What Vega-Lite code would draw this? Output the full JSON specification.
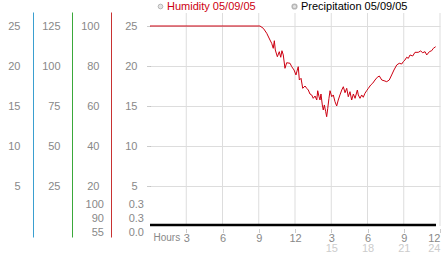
{
  "$schema": "https://vega.github.io/schema/vega-lite/v6.json",
  "width": 290,
  "height": 225,
  "autosize": {"type": "none"},
  "padding": {"left": 150, "top": 12, "right": 2, "bottom": 16},
  "background": "white",
  "config": {
    "view": {"stroke": null},
    "font": "Liberation Sans",
    "axis": {"labelFont": "Liberation Sans", "labelFontSize": 11, "labelColor": "#888888", "title": null},
    "text": {"font": "Liberation Sans", "fontSize": 11}
  },
  "datasets": {
    "humidity": [
      {"h": 0, "v": 25}, {"h": 9.10, "v": 25}, {"h": 9.38, "v": 24.71}, {"h": 9.66, "v": 24.09},
      {"h": 9.93, "v": 23.25}, {"h": 10.07, "v": 22.84}, {"h": 10.20, "v": 22.21}, {"h": 10.29, "v": 23.16},
      {"h": 10.37, "v": 22.0}, {"h": 10.54, "v": 21.16}, {"h": 10.70, "v": 21.79}, {"h": 10.82, "v": 21.09},
      {"h": 10.92, "v": 21.91}, {"h": 11.03, "v": 21.38}, {"h": 11.17, "v": 19.71}, {"h": 11.31, "v": 20.41},
      {"h": 11.59, "v": 20.34}, {"h": 11.73, "v": 19.91}, {"h": 11.92, "v": 19.5}, {"h": 12.08, "v": 18.88},
      {"h": 12.19, "v": 19.5}, {"h": 12.27, "v": 19.91}, {"h": 12.36, "v": 18.25}, {"h": 12.50, "v": 18.46},
      {"h": 12.64, "v": 17.21}, {"h": 12.83, "v": 17.5}, {"h": 12.97, "v": 17.21}, {"h": 13.10, "v": 17.0},
      {"h": 13.24, "v": 16.5}, {"h": 13.38, "v": 16.38}, {"h": 13.51, "v": 15.96}, {"h": 13.66, "v": 16.25},
      {"h": 13.80, "v": 15.75}, {"h": 13.88, "v": 16.91}, {"h": 13.99, "v": 16.16}, {"h": 14.07, "v": 15.75},
      {"h": 14.15, "v": 16.5}, {"h": 14.26, "v": 15.13}, {"h": 14.34, "v": 14.5}, {"h": 14.43, "v": 15.13},
      {"h": 14.54, "v": 14.29}, {"h": 14.62, "v": 13.66}, {"h": 14.71, "v": 14.71}, {"h": 14.81, "v": 15.96},
      {"h": 14.90, "v": 16.91}, {"h": 15.04, "v": 16.16}, {"h": 15.17, "v": 16.38}, {"h": 15.31, "v": 15.54},
      {"h": 15.45, "v": 15.0}, {"h": 15.58, "v": 15.75}, {"h": 15.72, "v": 16.38}, {"h": 15.87, "v": 17.0},
      {"h": 16.00, "v": 17.41}, {"h": 16.14, "v": 16.66}, {"h": 16.28, "v": 17.21}, {"h": 16.41, "v": 16.16},
      {"h": 16.55, "v": 16.79}, {"h": 16.69, "v": 15.75}, {"h": 16.83, "v": 16.5}, {"h": 16.97, "v": 15.96},
      {"h": 17.16, "v": 17.0}, {"h": 17.24, "v": 16.38}, {"h": 17.38, "v": 15.96}, {"h": 17.52, "v": 16.38},
      {"h": 17.65, "v": 16.09}, {"h": 17.79, "v": 16.59}, {"h": 17.93, "v": 16.91}, {"h": 18.07, "v": 17.21},
      {"h": 18.27, "v": 17.63}, {"h": 18.43, "v": 17.84}, {"h": 18.62, "v": 18.25}, {"h": 18.81, "v": 18.59},
      {"h": 18.98, "v": 18.75}, {"h": 19.18, "v": 18.25}, {"h": 19.37, "v": 18.16}, {"h": 19.59, "v": 18.04},
      {"h": 19.80, "v": 18.25}, {"h": 20.00, "v": 18.88}, {"h": 20.19, "v": 19.5}, {"h": 20.42, "v": 20.13},
      {"h": 20.63, "v": 20.34}, {"h": 20.83, "v": 20.25}, {"h": 20.96, "v": 20.54}, {"h": 21.10, "v": 20.75},
      {"h": 21.24, "v": 21.09}, {"h": 21.38, "v": 20.96}, {"h": 21.52, "v": 21.38}, {"h": 21.74, "v": 21.25},
      {"h": 21.93, "v": 21.71}, {"h": 22.20, "v": 21.71}, {"h": 22.40, "v": 21.88}, {"h": 22.57, "v": 21.66},
      {"h": 22.76, "v": 21.79}, {"h": 22.90, "v": 21.38}, {"h": 23.12, "v": 21.79}, {"h": 23.31, "v": 21.91},
      {"h": 23.45, "v": 22.21}, {"h": 23.64, "v": 22.41}
    ],
    "precipitation": [
      {"h": 0, "p": 0}, {"h": 3, "p": 0}, {"h": 6, "p": 0}, {"h": 9, "p": 0}, {"h": 12, "p": 0},
      {"h": 15, "p": 0}, {"h": 18, "p": 0}, {"h": 21, "p": 0}, {"h": 23.67, "p": 0}
    ],
    "hourTicks": [
      {"h": 3}, {"h": 6}, {"h": 9}, {"h": 12}, {"h": 15}, {"h": 18}, {"h": 21}, {"h": 24}
    ],
    "lowerRows": [
      {"row": 2, "a": "100", "b": "0.3"},
      {"row": 1, "a": "90", "b": "0.3"},
      {"row": 0, "a": "55", "b": "0.0"}
    ],
    "none": []
  },
  "layer": [
    {
      "data": {"name": "none"},
      "mark": {"type": "point"},
      "encoding": {
        "x": {"field": "h", "type": "quantitative", "scale": {"domain": [0, 24], "nice": false, "zero": false}, "axis": null},
        "y": {"field": "v", "type": "quantitative", "scale": {"domain": [-1.375, 26.75], "nice": false, "zero": false},
          "axis": {"orient": "left", "offset": 117, "values": [5, 10, 15, 20, 25], "domain": true, "domainColor": "#3a9fd0", "domainWidth": 1,
            "ticks": false, "tickSize": 0, "labelPadding": 13, "grid": false}}
      }
    },
    {
      "data": {"name": "none"},
      "mark": {"type": "point"},
      "encoding": {
        "x": {"field": "h", "type": "quantitative", "scale": {"domain": [0, 24], "nice": false, "zero": false}, "axis": null},
        "y": {"field": "v", "type": "quantitative", "scale": {"domain": [-6.875, 133.75], "nice": false, "zero": false},
          "axis": {"orient": "left", "offset": 78, "values": [25, 50, 75, 100, 125], "domain": true, "domainColor": "#3aa83a", "domainWidth": 1,
            "ticks": false, "tickSize": 0, "labelPadding": 12, "grid": false}}
      }
    },
    {
      "data": {"name": "none"},
      "mark": {"type": "point"},
      "encoding": {
        "x": {"field": "h", "type": "quantitative", "scale": {"domain": [0, 24], "nice": false, "zero": false}, "axis": null},
        "y": {"field": "v", "type": "quantitative", "scale": {"domain": [-5.5, 107], "nice": false, "zero": false},
          "axis": {"orient": "left", "offset": 39, "values": [20, 40, 60, 80, 100], "domain": true, "domainColor": "#c83232", "domainWidth": 1,
            "ticks": false, "tickSize": 0, "labelPadding": 12, "grid": false}}
      }
    },
    {
      "data": {"name": "hourTicks"},
      "mark": {"type": "rule", "color": "#dddddd", "strokeWidth": 1},
      "encoding": {
        "x": {"field": "h", "type": "quantitative", "scale": {"domain": [0, 24], "nice": false, "zero": false}, "axis": null},
        "y": {"datum": 26.625, "scale": {"domain": [-1.375, 26.75], "nice": false, "zero": false}, "axis": null},
        "y2": {"datum": 0}
      }
    },
    {
      "data": {"name": "precipitation"},
      "mark": {"type": "line", "strokeWidth": 2.5, "color": "#000000"},
      "encoding": {
        "x": {"field": "h", "type": "quantitative", "scale": {"domain": [0, 24], "nice": false, "zero": false},
          "axis": {"orient": "bottom", "offset": -8, "values": [15, 18, 21, 24], "domain": false, "ticks": false, "tickSize": 0,
            "labelPadding": 13, "labelColor": "#cccccc", "labelFlush": true, "labelOverlap": false, "grid": false}},
        "y": {"field": "p", "type": "quantitative", "scale": {"domain": [-0.12857, 2.2821], "nice": false, "zero": false}, "axis": null}
      }
    },
    {
      "data": {"name": "humidity"},
      "mark": {"type": "line", "strokeWidth": 1, "color": "#cc0011"},
      "encoding": {
        "x": {"field": "h", "type": "quantitative", "scale": {"domain": [0, 24], "nice": false, "zero": false},
          "axis": {"orient": "bottom", "offset": -8, "values": [3, 6, 9, 12, 15, 18, 21, 24],
            "labelExpr": "datum.value > 12 ? datum.value - 12 : datum.value",
            "domain": false, "ticks": true, "tickSize": 3, "tickColor": "#999999", "tickDash": [1, 1],
            "labelPadding": 0, "labelFlush": true, "labelOverlap": false, "grid": false,
            "title": "Hours", "titleFont": "Liberation Sans", "titleFontSize": 10, "titleFontWeight": "normal", "titleColor": "#888888",
            "titleAngle": 0, "titleX": 3, "titleY": 3, "titleAlign": "left", "titleBaseline": "top"}},
        "y": {"field": "v", "type": "quantitative", "scale": {"domain": [-1.375, 26.75], "nice": false, "zero": false},
          "axis": {"orient": "left", "offset": 0, "values": [5, 10, 15, 20, 25], "domain": false, "ticks": true, "tickSize": 4,
            "tickColor": "#999999", "tickDash": [1, 1], "labelPadding": 9, "grid": true, "gridColor": "#dddddd"}}
      }
    },
    {
      "data": {"name": "none"},
      "mark": {"type": "point", "filled": true, "fill": "#d8d8d8", "stroke": "#999999", "strokeWidth": 1},
      "encoding": {
        "color": {"field": "humiditySeries", "type": "nominal",
          "scale": {"domain": ["Humidity 05/09/05"], "range": ["#d8d8d8"]},
          "legend": {"orient": "none", "legendX": 5, "legendY": -11, "direction": "horizontal", "title": null,
            "symbolType": "circle", "symbolSize": 22, "symbolStrokeColor": "#999999", "symbolStrokeWidth": 1,
            "labelFont": "Liberation Sans", "labelFontSize": 11, "labelOffset": 1, "labelColor": "#cc0011", "padding": 0}}
      }
    },
    {
      "data": {"name": "none"},
      "mark": {"type": "point", "filled": true, "fill": "#d8d8d8", "stroke": "#999999", "strokeWidth": 1},
      "encoding": {
        "shape": {"field": "precipSeries", "type": "nominal",
          "scale": {"domain": ["Precipitation 05/09/05"], "range": ["circle"]},
          "legend": {"orient": "none", "legendX": 139, "legendY": -11, "direction": "horizontal", "title": null,
            "symbolSize": 22, "labelFont": "Liberation Sans", "labelFontSize": 11, "labelOffset": 1, "labelColor": "#000000", "padding": 0}}
      }
    },
    {
      "mark": {"type": "rule", "color": "#aaaaaa", "strokeWidth": 2},
      "encoding": {
        "x": {"datum": -12.5, "scale": {"domain": [0, 24], "nice": false, "zero": false}, "axis": null},
        "x2": {"datum": 0},
        "y": {"datum": 0.3, "scale": {"domain": [-0.12857, 2.2821], "nice": false, "zero": false}, "axis": null}
      }
    },
    {
      "mark": {"type": "rule", "color": "#000000", "strokeWidth": 2},
      "encoding": {
        "x": {"datum": 0, "scale": {"domain": [0, 24], "nice": false, "zero": false}, "axis": null},
        "y": {"datum": 26.625, "scale": {"domain": [-1.375, 26.75], "nice": false, "zero": false}, "axis": null},
        "y2": {"datum": 0}
      }
    },
    {
      "data": {"name": "lowerRows"},
      "mark": {"type": "text", "align": "right", "baseline": "middle", "color": "#888888"},
      "encoding": {
        "x": {"datum": -3.81, "scale": {"domain": [0, 24], "nice": false, "zero": false}, "axis": null},
        "y": {"field": "row", "type": "quantitative", "scale": {"domain": [-0.32727, 16.03636], "nice": false, "zero": false}, "axis": null},
        "text": {"field": "a"}
      }
    },
    {
      "data": {"name": "lowerRows"},
      "mark": {"type": "text", "align": "right", "baseline": "middle", "color": "#888888"},
      "encoding": {
        "x": {"datum": -0.5, "scale": {"domain": [0, 24], "nice": false, "zero": false}, "axis": null},
        "y": {"field": "row", "type": "quantitative", "scale": {"domain": [-0.32727, 16.03636], "nice": false, "zero": false}, "axis": null},
        "text": {"field": "b"}
      }
    }
  ],
  "resolve": {"scale": {"x": "independent", "y": "independent"}, "axis": {"x": "independent", "y": "independent"}}
}
